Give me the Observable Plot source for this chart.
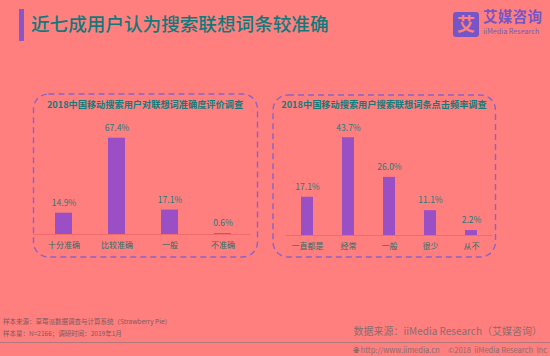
<!DOCTYPE html>
<html>
<head>
<meta charset="utf-8">
<script src="https://cdn.jsdelivr.net/npm/d3@7"></script>
<script src="https://cdn.jsdelivr.net/npm/@observablehq/plot@0.6"></script>
<style>
  html, body { margin: 0; padding: 0; }
  body { width: 550px; height: 356px; background: #ff7f7f; position: relative; overflow: hidden;
         font-family: "Noto Sans CJK SC", "Noto Sans", sans-serif; }
  .abs { position: absolute; white-space: nowrap; }
  #accent { left: 19px; top: 9px; width: 5px; height: 32px; background: #8a55c8; }
  #title { left: 31px; top: 11px; font-size: 18.6px; line-height: 24px; color: #12797b; font-weight: 500; }
  #logoText { left: 483px; top: 7px; font-size: 14.5px; line-height: 18px; color: #7656c6; font-weight: 700; letter-spacing: 0.3px; }
  #logoSub { left: 483px; top: 27px; font-size: 7.2px; line-height: 9px; color: #7656c6; }
  .ptitle { top: 97px; font-size: 9.2px; line-height: 14px; font-weight: 700; color: #157a7a; transform: translateX(-50%); }
  .foot { left: 3px; font-size: 6.5px; line-height: 8px; color: #7d5a5a; }
  #src { right: 8px; top: 324px; font-size: 10px; line-height: 14px; color: #8a6c6c; }
  #hr { left: 0; top: 342px; width: 550px; height: 1px; background: #b07878; }
  #bottom { right: 3px; top: 344px; font-size: 7.5px; line-height: 11px; color: #8a6c6c; }
  svg.plot { position: absolute; left: 0; top: 0; }
</style>
</head>
<body>
<div id="accent" class="abs"></div>
<div id="title" class="abs">近七成用户认为搜索联想词条较准确</div>
<svg class="abs" style="left:453px;top:12px;overflow:visible" width="27" height="26">
  <rect x="0" y="0" width="26" height="25" rx="3" fill="#7656c6"></rect>
  <text x="13" y="19" text-anchor="middle" font-size="18" font-weight="700" fill="#ff7f7f" font-family="Noto Sans CJK SC">艾</text>
</svg>
<div id="logoText" class="abs">艾媒咨询</div>
<div id="logoSub" class="abs">iiMedia Research</div>

<svg class="abs" style="left:0;top:0" width="550" height="356">
  <rect x="33.5" y="94" width="224" height="163" rx="15" fill="none" stroke="#8a62c9" stroke-width="1.4" stroke-dasharray="6,4"></rect>
  <rect x="273" y="95" width="222.5" height="162" rx="15" fill="none" stroke="#8a62c9" stroke-width="1.4" stroke-dasharray="6,4"></rect>
</svg>

<div class="abs ptitle" style="left:145px">2018中国移动搜索用户对联想词准确度评价调查</div>
<div class="abs ptitle" style="left:384px">2018中国移动搜索用户搜索联想词条点击频率调查</div>

<div id="chartL"></div>
<div id="chartR"></div>

<div class="abs foot" style="top:317px">样本来源：草莓派数据调查与计算系统（Strawberry Pie）</div>
<div class="abs foot" style="top:329px">样本量：N=2166；调研时间：2019年1月</div>
<div id="src" class="abs">数据来源：iiMedia Research（艾媒咨询）</div>
<div id="hr" class="abs"></div>
<div id="bottom" class="abs">&#x1F310;&#xFE0E; http://www.iimedia.cn &nbsp;&nbsp;&nbsp; ©2018 &nbsp;iiMedia Research &nbsp;Inc</div>

<script>
// Data
const accuracyCategories = ["十分准确", "比较准确", "一般", "不准确"];
const accuracyValues = [14.9, 67.4, 17.1, 0.6];
const clickCategories = ["一直都是", "经常", "一般", "很少", "从不"];
const clickValues = [17.1, 43.7, 26.0, 11.1, 2.2];

const barColor = "#9a4fc4";
const textColor = "#1d7a78";

function panel(cats, vals, opts) {
  const data = cats.map((c, i) => ({ cat: c, value: vals[i] }));
  return Plot.plot({
    width: 550,
    height: 356,
    marginLeft: opts.mL,
    marginRight: opts.mR,
    marginTop: opts.mT,
    marginBottom: opts.mB,
    style: { background: "transparent", fontFamily: "Noto Sans CJK SC, Noto Sans, sans-serif", overflow: "visible" },
    x: { domain: cats, paddingInner: opts.pi, paddingOuter: 0.5, axis: null },
    y: { domain: [0, opts.ymax], axis: null },
    marks: [
      Plot.ruleY([0], { stroke: "#f06c6c", strokeWidth: 1, insetLeft: opts.iL, insetRight: opts.iR }),
      Plot.barY(data, { x: "cat", y: "value", fill: barColor }),
      Plot.text(data, { x: "cat", y: "value", text: d => d.value.toFixed(1) + "%", dy: -10, fill: textColor, fontSize: 8.5 }),
      Plot.axisX({ tickSize: 0, tickPadding: 8, fontSize: 8, label: null, fill: "#2d6e68" })
    ]
  });
}

const left = panel(accuracyCategories, accuracyValues, { mL: 26.2, mR: 290.8, mT: 119.7, mB: 122, pi: 0.685, ymax: 80, iL: 7, iR: 9 });
const right = panel(clickCategories, clickValues, { mL: 279, mR: 51.5, mT: 123.2, mB: 121, pi: 0.698, ymax: 50, iL: 6, iR: 6 });
left.setAttribute("class", "plot");
right.setAttribute("class", "plot");
document.getElementById("chartL").appendChild(left);
document.getElementById("chartR").appendChild(right);
</script>
</body>
</html>
